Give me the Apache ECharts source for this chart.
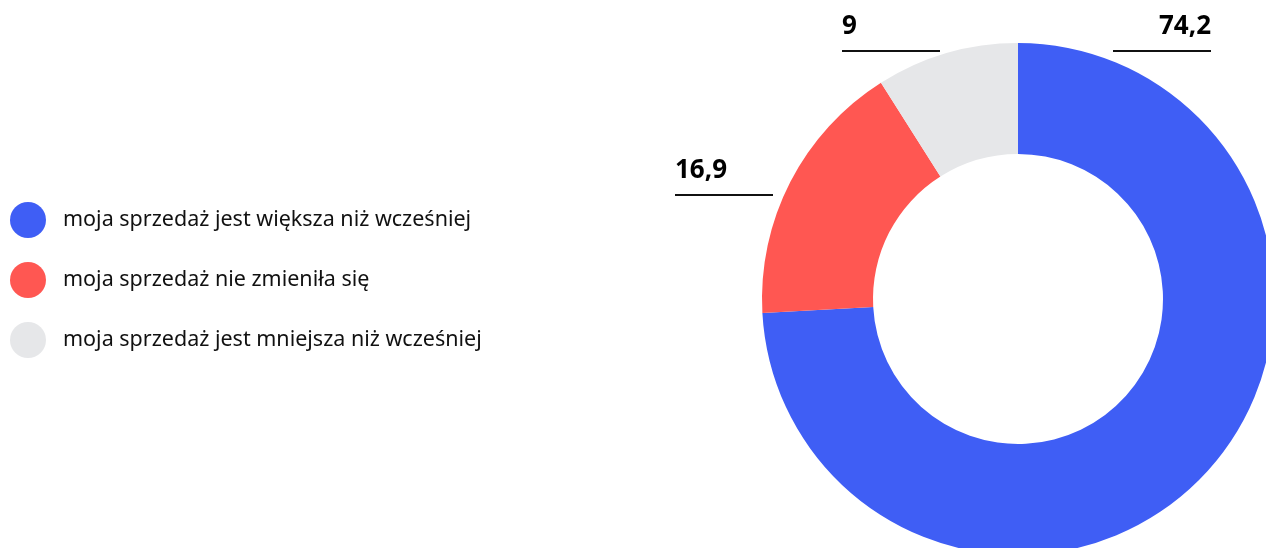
<!DOCTYPE html>
<html>
<head>
<meta charset="utf-8">
<script src="https://cdn.jsdelivr.net/npm/echarts@6/dist/echarts.min.js"></script>
<style>
html,body{margin:0;padding:0;background:#fff;}
#chart{width:1266px;height:548px;}
</style>
</head>
<body>
<div id="chart"></div>
<script>
const categories = [
  'moja sprzedaż jest większa niż wcześniej',
  'moja sprzedaż nie zmieniła się',
  'moja sprzedaż jest mniejsza niż wcześniej'
];
const values = [74.2, 16.9, 9];
const valueLabels = ['74,2', '16,9', '9'];
const colors = ['#3F5EF5', '#FF5752', '#E6E7E9'];

// label anchor offsets relative to pie center (layout only)
const CX = 1018, CY = 299;
const labelAnchors = [
  { dx: 193, dy: -247, align: 'right' },
  { dx: -343, dy: -103, align: 'left' },
  { dx: -176, dy: -247, align: 'left' }
];

const chart = echarts.init(document.getElementById('chart'), null, { renderer: 'canvas' });
const FONT = '"Noto Sans", sans-serif';

chart.setOption({
  animation: false,
  backgroundColor: '#ffffff',
  legend: {
    orient: 'vertical',
    left: 10,
    top: 202,
    padding: 0,
    icon: 'circle',
    itemWidth: 36,
    itemHeight: 36,
    itemGap: 24,
    selectedMode: false,
    textStyle: {
      fontFamily: FONT,
      fontSize: 21.5,
      color: '#111111',
      padding: [0, 0, 0, 12]
    },
    data: categories
  },
  series: [{
    type: 'pie',
    center: [CX, CY],
    radius: [145, 256],
    startAngle: 90,
    clockwise: true,
    avoidLabelOverlap: false,
    silent: true,
    label: {
      show: true,
      position: 'outside',
      formatter: function (p) {
        return '{v|' + valueLabels[p.dataIndex] + '}\n{u|}';
      },
      rich: {
        v: {
          fontFamily: FONT,
          fontSize: 26,
          fontWeight: 'bold',
          color: '#000000',
          lineHeight: 46
        },
        u: {
          width: 98,
          height: 2,
          backgroundColor: '#111111'
        }
      }
    },
    labelLine: { show: false },
    labelLayout: function (params) {
      const a = labelAnchors[params.dataIndex];
      return {
        x: CX + a.dx,
        y: CY + a.dy,
        align: a.align,
        verticalAlign: 'bottom'
      };
    },
    data: categories.map(function (c, i) {
      return { name: c, value: values[i], itemStyle: { color: colors[i] } };
    })
  }]
});
</script>
</body>
</html>
